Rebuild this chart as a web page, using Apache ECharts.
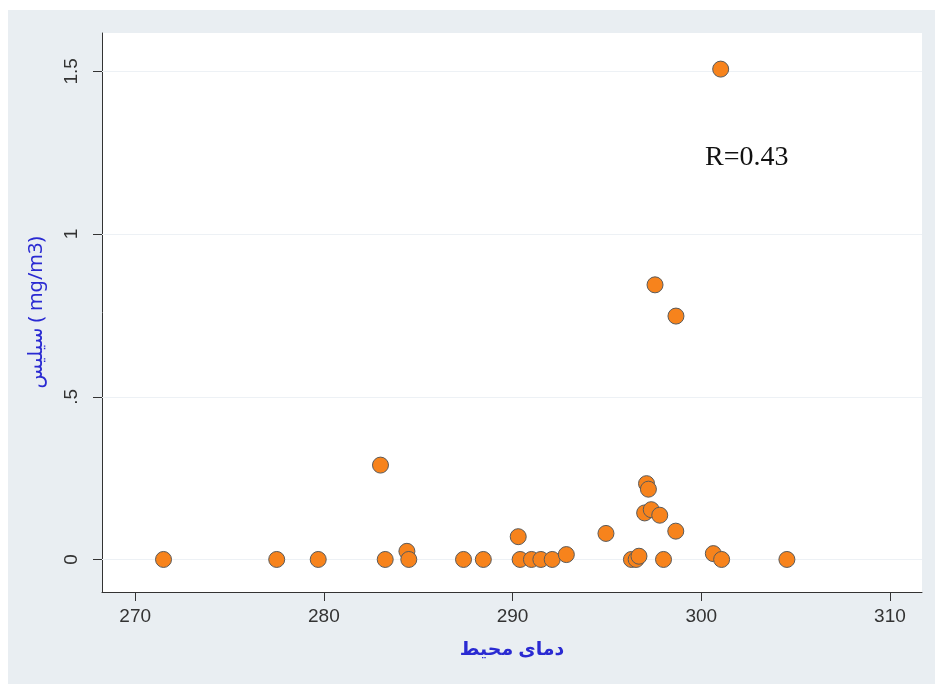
<!DOCTYPE html>
<html>
<head>
<meta charset="utf-8">
<script src="https://cdn.jsdelivr.net/npm/echarts@6/dist/echarts.min.js"></script>
<style>html,body{margin:0;padding:0;background:#fff}#c{width:935px;height:684px}</style>
</head>
<body>
<div id="c"></div>
<script>
const tempValues = [271.5, 277.5, 279.7, 283.0, 283.25, 284.4, 284.5, 287.4, 288.45, 290.3, 290.4, 291.0, 291.5, 292.1, 292.85, 294.95, 296.3, 296.55, 296.7, 298.0, 297.1, 297.2, 297.0, 297.35, 297.8, 297.55, 298.65, 298.66, 300.64, 301.08, 301.03, 304.54];
const silicaValues = [0, 0, 0, 0.29, 0, 0.025, 0, 0, 0, 0.07, 0, 0, 0, 0, 0.015, 0.08, 0, 0, 0.01, 0, 0.233, 0.216, 0.143, 0.153, 0.136, 0.844, 0.087, 0.748, 0.018, 0, 1.507, 0];
const xTicks = [270, 280, 290, 300, 310];
const yTicks = [0, 0.5, 1, 1.5];
const xName = 'دمای محیط';
const yName = 'سیلیس ( mg/m3)';
const annotation = 'R=0.43';

const points = tempValues.map((x, i) => [x, silicaValues[i]]);
const chart = echarts.init(document.getElementById('c'), null, {renderer: 'canvas'});
chart.setOption({
  backgroundColor: '#ffffff',
  animation: false,
  graphic: [
    {type: 'rect', z: -10, shape: {x: 8, y: 10, width: 927, height: 674}, style: {fill: '#e9eef2'}, silent: true},
    {type: 'text', z: 100, left: 705, top: 144, style: {text: annotation, font: '28px "Liberation Serif", "Times New Roman", serif', fill: '#111'}}
  ],
  grid: {left: 102, top: 33, right: 13, bottom: 92, show: true, backgroundColor: '#ffffff', borderWidth: 0},
  xAxis: {
    type: 'value', min: 268.24, max: 311.7,
    name: xName, nameLocation: 'middle', nameGap: 48,
    nameTextStyle: {color: '#2a2ad2', fontSize: 19, fontWeight: 'bold', fontFamily: '"Noto Sans", "DejaVu Sans", sans-serif'},
    axisLine: {show: true, onZero: false, lineStyle: {color: '#333', width: 1}},
    axisTick: {show: true, length: 9, lineStyle: {color: '#333'}, customValues: xTicks},
    axisLabel: {customValues: xTicks, color: '#333', fontSize: 19, fontFamily: '"Liberation Sans", Arial, sans-serif', margin: 15},
    splitLine: {show: false}
  },
  yAxis: {
    type: 'value', min: -0.1, max: 1.618,
    name: yName, nameLocation: 'middle', nameRotate: 90, nameGap: 56,
    nameTextStyle: {color: '#2a2ad2', fontSize: 20, fontFamily: '"Noto Sans", "DejaVu Sans", sans-serif'},
    axisLine: {show: true, onZero: false, lineStyle: {color: '#333', width: 1}},
    axisTick: {show: true, length: 9, lineStyle: {color: '#333'}, customValues: yTicks},
    axisLabel: {customValues: yTicks, rotate: 90, color: '#333', fontSize: 19, fontFamily: '"Liberation Sans", Arial, sans-serif', margin: 21,
      formatter: v => String(v).replace(/^0\./, '.')},
    splitLine: {show: false}
  },
  series: [{
    type: 'scatter',
    data: points,
    symbol: 'circle',
    symbolSize: 16,
    itemStyle: {color: '#f7831c', borderColor: '#5a5a5a', borderWidth: 1, opacity: 1},
    markLine: {
      silent: true, symbol: ['none', 'none'], label: {show: false},
      lineStyle: {color: '#edf1f5', type: 'solid', width: 1},
      z: 1,
      data: yTicks.map(v => ({yAxis: v}))
    },
    z: 5
  }]
});
</script>
</body>
</html>
